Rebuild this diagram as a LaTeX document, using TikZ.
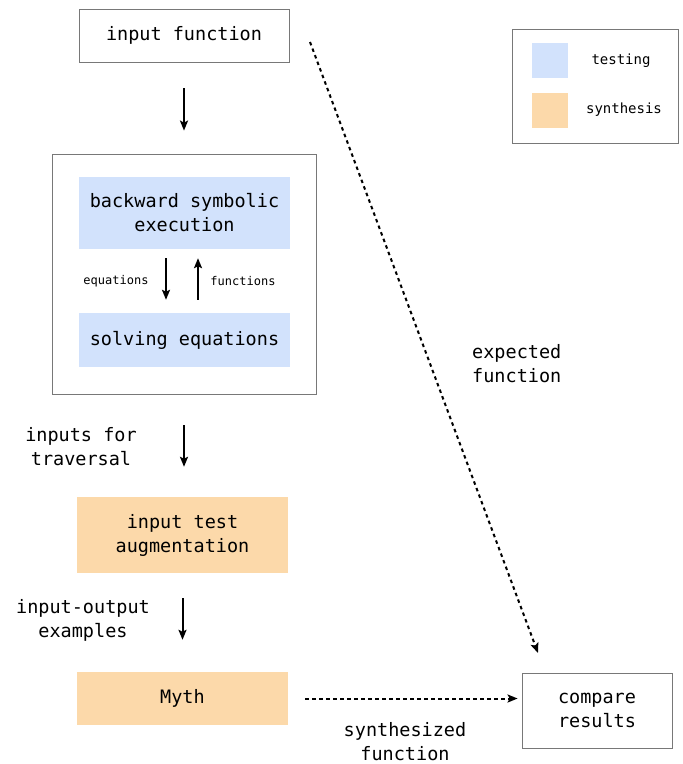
\documentclass[tikz,border=0pt]{standalone}
\usepackage{fontspec}
\setmonofont{DejaVu Sans Mono}
\usetikzlibrary{arrows.meta}
\definecolor{testblue}{RGB}{210,226,252}
\definecolor{synthorange}{RGB}{252,217,170}
\definecolor{boxgray}{RGB}{120,120,120}

\begin{document}
\begin{tikzpicture}[x=1pt, y=-1pt, font=\ttfamily\fontsize{18.5}{24}\selectfont,
  plain/.style = {draw=boxgray, fill=white, align=center, inner sep=0pt, line width=0.8pt},
  testing/.style = {fill=testblue, align=center, inner sep=0pt, minimum width=211pt},
  synthesis/.style = {fill=synthorange, align=center, inner sep=0pt, minimum width=211pt},
  note/.style = {align=center, inner sep=0pt},
  small/.style = {font=\ttfamily\fontsize{12}{15}\selectfont},
  flow/.style = {-{Stealth[length=10pt, width=8pt, inset=2pt]}, line width=2pt},
  dotflow/.style = {flow, dash pattern=on 3.5pt off 3.5pt},]

\useasboundingbox (0,0) rectangle (683,764);

\node (input) [plain, minimum width=210pt, minimum height=53pt] at (184,35.5) {input function};
\node (proc) [plain, minimum width=264pt, minimum height=240pt] at (184,274) {};
\node (backward) [testing, minimum height=72pt] at (184.5,213) {backward symbolic\\execution};
\node (solving) [testing, minimum height=54pt] at (184.5,340) {solving equations};
\node (augment) [synthesis, minimum height=76pt] at (182.5,535) {input test\\augmentation};
\node (myth) [synthesis, minimum height=53pt] at (182.5,698.5) {Myth};
\node (compare) [plain, minimum width=150pt, minimum height=75pt] at (597,710.5) {compare\\results};

\node (legend) [plain, minimum width=166pt, minimum height=114pt] at (595,86) {};
\node (testkey) [fill=testblue, minimum width=36pt, minimum height=35pt, inner sep=0pt] at (550,60.5) {};
\node (synthkey) [fill=synthorange, minimum width=36pt, minimum height=35pt, inner sep=0pt] at (550,110.5) {};
\node (testtext) [note, font=\ttfamily\fontsize{14}{17}\selectfont] at (621,61) {testing};
\node (synthtext) [note, font=\ttfamily\fontsize{14}{17}\selectfont] at (624,110) {synthesis};

\node (eqtext) [note, small] at (116,281) {equations};
\node (fntext) [note, small] at (243,281) {functions};
\node (travtext) [note] at (81,447) {inputs for\\traversal};
\node (iotext) [note] at (83,620) {input-output\\examples};
\node (syntext) [note] at (405,742) {synthesized\\function};
\node (exptext) [note, anchor=west] at (472,363.5) {expected\\function};

\coordinate (expstart) at (310,42);
\coordinate (expend) at (538,653);

\draw[flow, shorten <=26pt, shorten >=23pt] (input) -- (proc);
\draw[flow, shorten <=9pt, shorten >=13pt] ([xshift=-18.5pt]backward.south) -- ([xshift=-18.5pt]solving.north);
\draw[flow, shorten <=13pt, shorten >=9pt] ([xshift=13.5pt]solving.north) -- ([xshift=13.5pt]backward.south);
\draw[flow, shorten <=31pt, shorten >=30pt] (proc.south) -- (proc.south |- augment.north);
\draw[flow, shorten <=25pt, shorten >=32pt] (augment) -- (myth);
\draw[dotflow, shorten <=17pt, shorten >=4pt] (myth.east) -- (myth.east -| compare.west);
\draw[dotflow] (expstart) -- (expend);
\end{tikzpicture}
\end{document}
